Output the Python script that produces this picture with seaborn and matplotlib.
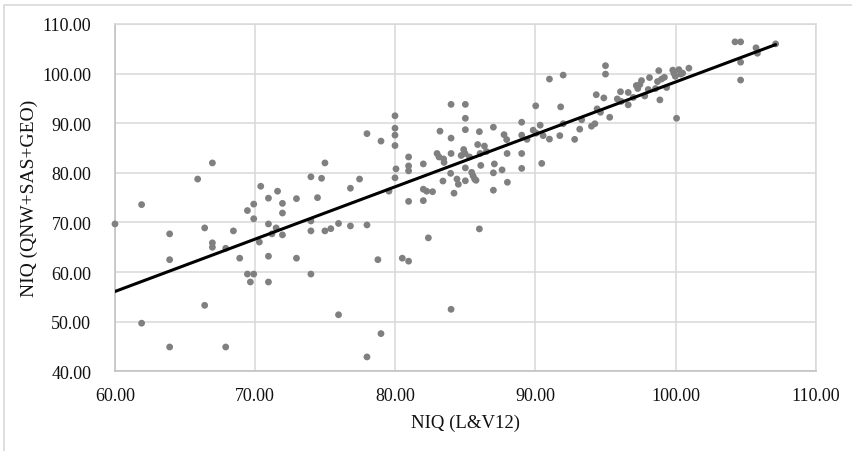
import matplotlib
matplotlib.use("Agg")
import matplotlib.pyplot as plt
from matplotlib.patches import Rectangle
import numpy as np
import pandas as pd
import seaborn as sns

# NIQ estimates: L&V12 (x) against QNW+SAS+GEO (y)
niq_lv12 = [
    60.0, 61.9, 61.9, 63.9, 63.9, 63.9, 65.9, 66.4, 66.4, 66.95,
    66.95, 66.95, 67.9, 67.9, 68.45, 68.9, 69.45, 69.45, 69.66, 69.9,
    69.9, 69.9, 70.3, 70.4, 70.95, 70.95, 70.95, 70.95, 71.2, 71.5,
    71.6, 71.95, 71.95, 71.95, 72.95, 72.95, 73.98, 73.98, 73.98, 73.98,
    74.45, 74.74, 74.98, 74.98, 75.4, 75.95, 75.95, 76.8, 76.8, 77.45,
    77.98, 77.98, 77.98, 78.76, 78.98, 78.98, 79.55, 79.98, 79.98, 79.98,
    79.98, 80.05, 79.98, 80.5, 80.95, 80.95, 80.95, 80.95, 80.95, 82.0,
    82.0, 82.0, 82.24, 82.36, 82.66, 82.98, 83.19, 83.12, 83.45, 83.4,
    83.48, 83.98, 83.98, 83.98, 83.95, 83.98, 84.19, 84.4, 84.5, 84.7,
    84.88, 85.0, 85.0, 85.0, 84.98, 85.0, 85.0, 85.3, 85.45, 85.55,
    85.66, 85.76, 85.88, 86.0, 86.05, 86.1, 86.0, 86.36, 86.5, 87.0,
    87.07, 87.0, 87.0, 87.62, 87.76, 87.95, 87.98, 88.0, 89.02, 89.02,
    89.02, 89.02, 89.4, 89.84, 90.02, 90.05, 90.34, 90.45, 90.55, 91.0,
    91.0, 91.74, 91.8, 91.98, 91.98, 92.8, 93.16, 93.3, 94.0, 94.24,
    94.34, 94.4, 94.64, 94.88, 95.0, 95.0, 95.3, 95.84, 96.07, 96.12,
    96.62, 96.62, 96.98, 97.2, 97.3, 97.45, 97.57, 97.8, 98.05, 98.14,
    98.57, 98.71, 98.8, 98.88, 99.0, 99.2, 99.36, 99.8, 99.88, 99.98,
    100.07, 100.24, 100.36, 100.5, 100.95, 104.24, 104.64, 104.64, 104.64, 105.74,
    105.84, 107.14,
]
niq_qnw_sas_geo = [
    69.7, 73.6, 49.7, 67.7, 62.5, 44.9, 78.75, 68.9, 53.3, 82.0,
    65.9, 65.0, 64.8, 44.9, 68.3, 62.8, 72.4, 59.6, 58.0, 73.7,
    70.75, 59.6, 66.05, 77.3, 74.9, 69.7, 63.2, 58.0, 67.7, 68.9,
    76.3, 73.85, 71.9, 67.5, 74.8, 62.8, 79.2, 70.3, 68.3, 59.6,
    75.0, 78.9, 82.0, 68.3, 68.75, 69.8, 51.4, 76.9, 69.3, 78.75,
    87.9, 69.5, 42.9, 62.5, 86.4, 47.6, 76.3, 91.5, 89.0, 87.6,
    85.5, 80.8, 79.0, 62.8, 83.2, 81.4, 80.4, 74.25, 62.2, 81.8,
    76.7, 74.4, 76.3, 66.9, 76.2, 83.9, 88.4, 83.2, 82.8, 78.35,
    82.1, 93.8, 87.0, 83.9, 79.9, 52.5, 75.9, 78.75, 77.7, 83.5,
    84.7, 93.8, 91.0, 88.7, 83.9, 81.0, 78.4, 83.2, 80.1, 79.4,
    78.75, 78.5, 85.7, 88.3, 83.9, 81.5, 68.7, 85.4, 84.3, 89.2,
    81.8, 80.0, 76.5, 80.6, 87.7, 86.7, 83.9, 78.1, 90.2, 87.6,
    83.9, 80.9, 86.75, 88.6, 93.5, 88.0, 89.6, 81.9, 87.5, 98.9,
    86.8, 87.5, 93.3, 99.7, 89.9, 86.75, 88.8, 90.7, 89.4, 89.9,
    95.75, 92.9, 92.2, 95.1, 101.6, 99.9, 91.2, 94.9, 96.35, 94.4,
    96.2, 93.7, 95.2, 97.6, 97.0, 97.8, 98.6, 95.5, 96.8, 99.2,
    97.0, 98.4, 100.6, 94.7, 98.9, 99.25, 97.2, 100.7, 100.05, 99.45,
    91.0, 100.8, 99.9, 100.1, 101.1, 106.4, 106.4, 102.3, 98.7, 105.2,
    104.1, 106.0,
]

x_ticks = [60, 70, 80, 90, 100, 110]
y_ticks = [40, 50, 60, 70, 80, 90, 100, 110]

df = pd.DataFrame({"lv12": niq_lv12, "combo": niq_qnw_sas_geo})

sns.set_theme(style="white")
plt.rcParams["font.family"] = ["Liberation Serif", "DejaVu Serif"]

fig = plt.figure(figsize=(8.53, 4.52), dpi=100)
ax = fig.add_axes([0.1348, 0.1763, 0.9563 - 0.1348, 0.9447 - 0.1763])

sns.regplot(
    data=df, x="lv12", y="combo", ax=ax, ci=None, truncate=True,
    scatter_kws=dict(s=24, color="#808080", edgecolors="none", alpha=1,
                     zorder=3, clip_on=False),
    line_kws=dict(color="black", lw=2.2, zorder=4),
)

ax.set_xlim(60, 110)
ax.set_ylim(40, 110)
ax.set_xticks(x_ticks)
ax.set_yticks(y_ticks)
ax.set_xticklabels([f"{v:.2f}" for v in x_ticks], fontsize=13, color="#111111")
ax.set_yticklabels([f"{v:.2f}" for v in y_ticks], fontsize=13, color="#111111")
ax.tick_params(axis="x", length=0, pad=11)
ax.tick_params(axis="y", length=0, pad=17)

ax.grid(True, color="#d9d9d9", lw=1.1)
ax.set_axisbelow(True)
for side, sp in ax.spines.items():
    sp.set_visible(True)
    sp.set_color("#d9d9d9")
    sp.set_linewidth(1.1)
ax.spines["bottom"].set_color("#bfbfbf")
ax.spines["left"].set_color("#bfbfbf")

ax.set_xlabel("NIQ (L&V12)", fontsize=13.5, color="#111111", labelpad=7)
ax.set_ylabel("NIQ (QNW+SAS+GEO)", fontsize=14, color="#111111", labelpad=3)

# chart-area frame
fig.patches.append(Rectangle((3.5 / 853, -0.1), 1.2, 1.1 - 5.5 / 452,
                             transform=fig.transFigure, fill=False,
                             edgecolor="#d9d9d9", lw=1.2))

fig.savefig("out.png", dpi=100)
